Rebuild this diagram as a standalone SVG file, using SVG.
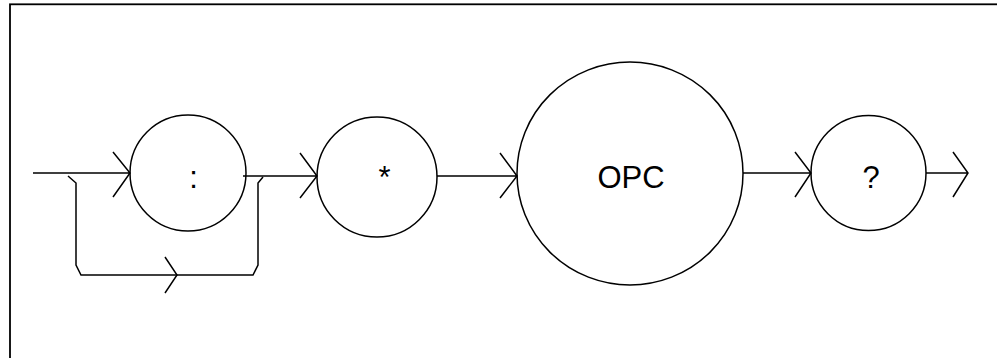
<svg xmlns="http://www.w3.org/2000/svg" width="997" height="358" viewBox="0 0 997 358">
<style>
.n{fill:none;stroke:#000;stroke-width:1.5}
.c{fill:none;stroke:#000;stroke-width:1.5;stroke-linejoin:miter}
.t{font-family:"Liberation Sans",Arial,sans-serif;font-size:31px;text-anchor:middle;fill:#000}
</style>
<rect x="10" y="4.3" width="1000" height="400" fill="#fff" stroke="#000" stroke-width="1.8"/>
<g id="connectors" class="c">
<path d="M33,173 H130 M113,152 L130,173 L113,197"/>
<path d="M68,176 L76,183 V265 L81,275 H253 L258,265 V183 L263,177"/>
<path d="M165,257 L177,275 L165,293"/>
<path d="M243,176 H317 M300,153 L317,176 L300,198"/>
<path d="M437,176 H517 M500,153 L517,176 L500,198"/>
<path d="M743,173 H811 M795,152 L811,173 L795,197"/>
<path d="M926,173 H968 M953,152 L968,173 L953,197"/>
</g>
<g id="colon"><circle class="n" cx="188" cy="173" r="58"/><text class="t" x="193.5" y="188">:</text></g>
<g id="star"><circle class="n" cx="377" cy="177" r="60"/><text class="t" x="384.5" y="188">*</text></g>
<g id="opc"><ellipse class="n" cx="630" cy="173.5" rx="113" ry="111.5"/><text class="t" x="631" y="188">OPC</text></g>
<g id="question"><circle class="n" cx="868.5" cy="173" r="57.5"/><text class="t" x="871" y="188">?</text></g>
</svg>
